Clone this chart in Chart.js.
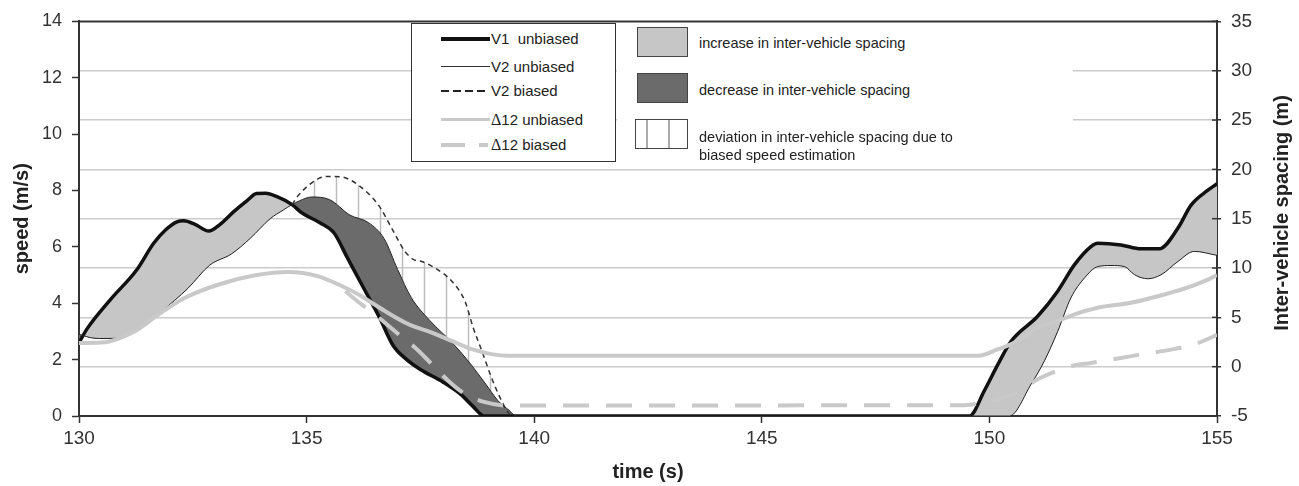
<!DOCTYPE html>
<html>
<head>
<meta charset="utf-8">
<title>speed and inter-vehicle spacing</title>
<script src="https://cdn.jsdelivr.net/npm/chart.js@4.4.1/dist/chart.umd.min.js"></script>
<style>
  html, body { margin: 0; padding: 0; background: #fff; }
  #wrap { position: relative; width: 1299px; height: 486px; font-family: "Liberation Sans", Arial, sans-serif; color: #222; }
  #wrap canvas { position: absolute; left: 0; top: 0; }
  .box { position: absolute; background: #fff; }
  #legendLines { left: 411px; top: 23px; width: 203px; height: 137px; border: 1.5px solid #333; }
  #legendAreas { left: 617px; top: 24px; width: 456px; height: 139px; }
  .row { position: absolute; left: 0; height: 20px; width: 100%; }
  .sample { position: absolute; top: 9px; height: 0; }
  .lbl { position: absolute; left: 79px; top: 0; line-height: 20px; font-size: 15px; white-space: nowrap; }
  .delta { font-family: "Liberation Serif", "Times New Roman", serif; font-size: 16px; }
  .swatch { position: absolute; left: 20px; width: 49px; height: 28px; border: 1.5px solid #444; }
  .txt { position: absolute; left: 82px; font-size: 14.5px; line-height: 18px; white-space: nowrap; }
</style>
</head>
<body>
<div id="wrap">
  <canvas id="speedChart" width="1299" height="486"></canvas>

  <div id="legendLines" class="box">
    <div class="row" style="top:5px"><span class="sample" style="left:29px;width:49px;border-top:4px solid #111;top:8px"></span><span class="lbl">V1&nbsp; unbiased</span></div>
    <div class="row" style="top:33px"><span class="sample" style="left:29px;width:49px;border-top:1px solid #333"></span><span class="lbl">V2 unbiased</span></div>
    <div class="row" style="top:57px"><span class="sample" style="left:29px;width:47px;height:2px;background:repeating-linear-gradient(90deg,#222 0 8px,transparent 8px 12px)"></span><span class="lbl">V2 biased</span></div>
    <div class="row" style="top:86px"><span class="sample" style="left:29px;width:49px;border-top:3px solid #c9c9c9;top:8px"></span><span class="lbl"><span class="delta">&Delta;</span>12 unbiased</span></div>
    <div class="row" style="top:111px"><span class="sample" style="left:29px;width:24px;border-top:4px solid #c9c9c9;top:8px"></span><span class="sample" style="left:67px;width:9px;border-top:4px solid #c9c9c9;top:8px"></span><span class="lbl"><span class="delta">&Delta;</span>12 biased</span></div>
  </div>

  <div id="legendAreas" class="box">
    <div class="swatch" style="top:3px;background:#c6c6c6"></div>
    <div class="txt" style="top:10px">increase in inter-vehicle spacing</div>
    <div class="swatch" style="top:49px;background:#6b6b6b"></div>
    <div class="txt" style="top:57px">decrease in inter-vehicle spacing</div>
    <div class="swatch" style="top:95px;left:18px;width:51px;background:linear-gradient(90deg,transparent 10px,#aaa 10px 11.5px,transparent 11.5px 32px,#aaa 32px 33.5px,transparent 33.5px)"></div>
    <div class="txt" style="top:104px">deviation in inter-vehicle spacing due to</div>
    <div class="txt" style="top:122px">biased speed estimation</div>
  </div>
</div>

<script>
// time axis ticks
const timeTicks = [130, 135, 140, 145, 150, 155];

// V1 unbiased speed (m/s)
const v1Time  = [130.0, 130.18, 130.69, 131.27, 131.64, 131.9, 132.15, 132.3, 132.55, 132.85, 133.1, 133.4, 133.7, 133.9, 134.1, 134.35, 134.68, 134.9, 135.3, 135.6, 135.9, 136.3, 136.6, 136.9, 137.2, 137.5, 138.0, 138.4, 138.65, 138.9,
                 149.56, 149.89, 150.19, 150.48, 151.06, 151.5, 151.87, 152.23, 152.38, 152.89, 153.33, 153.73, 154.14, 154.43, 154.8, 155.0];
const v1Speed = [2.6, 3.1, 4.13, 5.19, 6.13, 6.6, 6.89, 6.93, 6.8, 6.56, 6.8, 7.25, 7.65, 7.89, 7.9, 7.78, 7.5, 7.2, 6.85, 6.5, 5.6, 4.4, 3.5, 2.5, 2.0, 1.65, 1.2, 0.75, 0.35, 0,
                 0, 0.9, 1.84, 2.66, 3.54, 4.43, 5.37, 6.01, 6.13, 6.07, 5.93, 5.93, 6.66, 7.48, 8.01, 8.24];

// V2 unbiased speed (m/s)
const v2Time  = [130.0, 130.1, 130.25, 130.45, 130.87, 131.24, 131.73, 132.1, 132.4, 132.87, 133.35, 133.76, 134.2, 134.49, 134.68, 134.85, 135.11, 135.5, 135.95, 136.36, 136.7, 137.0, 137.3, 137.7, 138.2, 138.55, 138.95, 139.2, 139.45, 139.6,
                 150.44, 150.92, 151.21, 151.5, 151.79, 152.09, 152.38, 152.67, 152.97, 153.19, 153.48, 153.77, 154.14, 154.5, 155.0];
const v2Speed = [2.9, 2.85, 2.78, 2.75, 2.76, 3.01, 3.6, 4.1, 4.54, 5.35, 5.75, 6.3, 7.0, 7.31, 7.5, 7.64, 7.77, 7.68, 7.13, 6.86, 6.3, 5.2, 4.2, 3.4, 2.6, 1.95, 1.1, 0.55, 0.2, 0,
                 0, 1.14, 1.96, 3.0, 4.19, 4.9, 5.3, 5.34, 5.3, 5.01, 4.87, 5.01, 5.48, 5.84, 5.7];

// V2 biased speed (m/s), only where it departs from V2 unbiased
const v2bTime  = [134.68, 134.82, 135.26, 135.5, 135.77, 136.14, 136.58, 136.87, 137.16, 137.35, 137.53, 137.82, 138.19, 138.48, 138.66, 138.85, 139.06, 139.28, 139.45, 139.6];
const v2bSpeed = [7.5, 7.83, 8.42, 8.5, 8.48, 8.19, 7.48, 6.66, 5.84, 5.55, 5.48, 5.25, 4.78, 4.07, 3.13, 2.31, 1.37, 0.55, 0.08, 0];

// Δ12 unbiased spacing (m)
const gapTime = [130.0, 130.5, 131.24, 131.75, 132.33, 133.07, 133.87, 134.6, 135.26, 135.7, 136.14, 136.72, 137.24, 137.75, 138.19, 138.63, 139.06, 139.43,
                 149.75, 150.19, 150.55, 151.06, 151.5, 151.87, 152.38, 153.11, 153.84, 154.43, 154.8, 155.0];
const gapUnbiased = [2.4, 2.44, 3.62, 5.3, 6.98, 8.33, 9.26, 9.6, 9.16, 8.33, 7.32, 5.64, 4.3, 3.45, 2.61, 1.77, 1.27, 1.1,
                     1.1, 1.77, 2.44, 3.95, 4.63, 5.3, 5.97, 6.48, 7.32, 8.15, 8.82, 9.3];

// Δ12 biased spacing (m)
const gapbTime = [135.85, 136.21, 136.5, 137.02, 137.38, 137.75, 138.11, 138.48, 138.92, 139.36,
                  149.45, 150.0, 150.5, 151.14, 151.8, 152.23, 152.82, 153.4, 153.99, 154.58, 155.0];
const gapBiased = [7.65, 6.3, 5.3, 3.28, 1.94, 0.26, -1.42, -2.76, -3.6, -3.93,
                   -3.9, -3.5, -2.8, -1.1, 0.05, 0.38, 0.83, 1.29, 1.73, 2.39, 3.23];

const toPoints = (xs, ys) => xs.map((x, i) => ({ x: x, y: ys[i] }));

const FONT = '"Liberation Sans", Arial, sans-serif';
const canvas = document.getElementById('speedChart');
const ctx = canvas.getContext('2d');

// vertical hatch for the biased deviation area
const hatchCanvas = document.createElement('canvas');
hatchCanvas.width = 22;
hatchCanvas.height = 8;
const hctx = hatchCanvas.getContext('2d');
hctx.strokeStyle = '#bdbdbd';
hctx.lineWidth = 1.5;
hctx.beginPath();
hctx.moveTo(6.5, 0);
hctx.lineTo(6.5, 8);
hctx.stroke();
const hatch = ctx.createPattern(hatchCanvas, 'repeat');

// frame top line, inner half of right ticks, right axis title
const framePlugin = {
  id: 'frame',
  afterDraw(chart) {
    const { ctx, chartArea } = chart;
    const y1 = chart.scales.y1;
    ctx.save();
    ctx.strokeStyle = '#333';
    ctx.lineWidth = 2;
    ctx.beginPath();
    ctx.moveTo(chartArea.left - 1, chartArea.top);
    ctx.lineTo(chartArea.right + 1, chartArea.top);
    ctx.stroke();
    ctx.lineWidth = 1.5;
    y1.ticks.forEach(t => {
      const y = y1.getPixelForValue(t.value);
      ctx.beginPath();
      ctx.moveTo(chartArea.right - 5, y);
      ctx.lineTo(chartArea.right, y);
      ctx.stroke();
    });
    ctx.translate(1282, 213);
    ctx.rotate(-Math.PI / 2);
    ctx.fillStyle = '#222';
    ctx.font = 'bold 20px ' + FONT;
    ctx.textAlign = 'center';
    ctx.textBaseline = 'middle';
    ctx.fillText('Inter-vehicle spacing (m)', 0, 0);
    ctx.restore();
  }
};

new Chart(ctx, {
  type: 'line',
  data: {
    datasets: [
      {
        label: 'V1 unbiased',
        data: toPoints(v1Time, v1Speed),
        yAxisID: 'y',
        borderColor: '#111',
        borderWidth: 3.5,
        fill: { target: 1, above: '#c6c6c6', below: '#6b6b6b' },
        order: 5
      },
      {
        label: 'V2 unbiased',
        data: toPoints(v2Time, v2Speed),
        yAxisID: 'y',
        borderColor: '#222',
        borderWidth: 1,
        fill: false,
        order: 3
      },
      {
        label: 'V2 biased',
        data: toPoints(v2bTime, v2bSpeed),
        yAxisID: 'y',
        borderColor: '#333',
        borderWidth: 1.5,
        borderDash: [5, 4],
        fill: { target: 1, above: hatch, below: 'rgba(0,0,0,0)' },
        order: 4
      },
      {
        label: '\u039412 unbiased',
        data: toPoints(gapTime, gapUnbiased),
        yAxisID: 'y1',
        borderColor: '#c9c9c9',
        borderWidth: 4,
        fill: false,
        order: 2
      },
      {
        label: '\u039412 biased',
        data: toPoints(gapbTime, gapBiased),
        yAxisID: 'y1',
        borderColor: '#c9c9c9',
        borderWidth: 4,
        borderDash: [26, 17],
        borderCapStyle: 'butt',
        fill: false,
        order: 1
      }
    ]
  },
  options: {
    responsive: false,
    animation: false,
    devicePixelRatio: 1,
    elements: {
      point: { radius: 0, hoverRadius: 0 },
      line: { cubicInterpolationMode: 'monotone' }
    },
    layout: { padding: { top: 18, left: 0, right: 0, bottom: 0 } },
    plugins: {
      legend: { display: false },
      tooltip: { enabled: false }
    },
    scales: {
      x: {
        type: 'linear',
        min: 130,
        max: 155,
        afterBuildTicks(scale) { scale.ticks = timeTicks.map(v => ({ value: v })); },
        ticks: { color: '#333', font: { family: FONT, size: 19 }, padding: 4 },
        grid: { drawOnChartArea: false, tickLength: 7, tickColor: '#333', tickWidth: 1.5 },
        border: { color: '#333', width: 2 },
        title: { display: true, text: 'time (s)', color: '#222', font: { family: FONT, size: 20, weight: 'bold' }, padding: { top: 0, bottom: 2 } },
        afterFit(scale) { scale.height = 70; }
      },
      y: {
        position: 'left',
        min: 0,
        max: 14,
        ticks: { stepSize: 2, color: '#333', font: { family: FONT, size: 18 }, padding: 10 },
        grid: { drawOnChartArea: false, tickLength: 7, tickColor: '#333', tickWidth: 1.5 },
        border: { color: '#333', width: 2 },
        title: { display: true, text: 'speed (m/s)', color: '#222', font: { family: FONT, size: 20, weight: 'bold' }, padding: { top: 10, bottom: 0 } },
        afterFit(scale) { scale.width = 79; }
      },
      y1: {
        position: 'right',
        min: -5,
        max: 35,
        ticks: { stepSize: 5, color: '#333', font: { family: FONT, size: 19 }, padding: 10 },
        grid: {
          drawOnChartArea: true,
          color: c => (c.tick && (c.tick.value === -5 || c.tick.value === 35)) ? 'rgba(0,0,0,0)' : '#cbcbcb',
          lineWidth: 1.5,
          tickLength: 4,
          tickColor: '#333',
          tickWidth: 1.5
        },
        border: { color: '#333', width: 2 },
        afterFit(scale) { scale.width = 82; }
      }
    }
  },
  plugins: [framePlugin]
});
</script>
</body>
</html>
